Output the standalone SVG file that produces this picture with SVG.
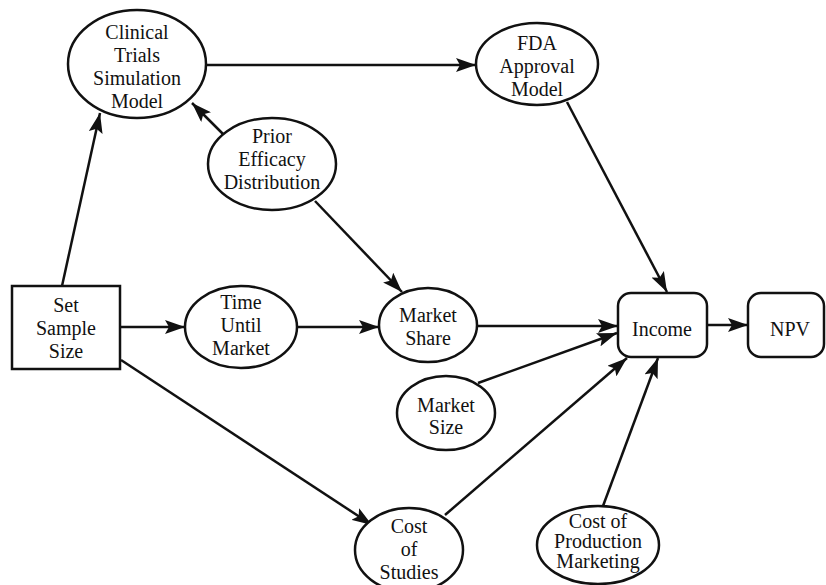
<svg xmlns="http://www.w3.org/2000/svg" width="826" height="585" viewBox="0 0 826 585">
<style>
.n{fill:#fff;stroke:#111;stroke-width:2.5}
.e{stroke:#111;stroke-width:2.5;fill:none;marker-end:url(#ah)}
</style>
<defs>
<marker id="ah" markerUnits="userSpaceOnUse" markerWidth="22" markerHeight="14" refX="20" refY="7" orient="auto">
<path d="M0,0 L20,7 L0,14 L4,7 z" fill="#111"/>
</marker>
</defs>
<rect width="826" height="585" fill="#fff"/>
<g id="edges">
<line class="e" x1="207" y1="65" x2="476" y2="65"/>
<line class="e" x1="223" y1="134" x2="192" y2="103"/>
<line class="e" x1="62" y1="286" x2="100" y2="113"/>
<line class="e" x1="120" y1="327" x2="185" y2="327"/>
<line class="e" x1="297" y1="327" x2="379" y2="327"/>
<line class="e" x1="315" y1="201" x2="402" y2="292"/>
<line class="e" x1="567" y1="102" x2="667" y2="292"/>
<line class="e" x1="477" y1="326" x2="618" y2="326"/>
<line class="e" x1="478" y1="383" x2="617" y2="333"/>
<line class="e" x1="121" y1="360" x2="372" y2="525"/>
<line class="e" x1="445" y1="515" x2="627" y2="358"/>
<line class="e" x1="603" y1="506" x2="658" y2="358"/>
<line class="e" x1="707" y1="325" x2="748" y2="325"/>
</g>
<g id="nodes" font-family="Liberation Serif" font-size="20" fill="#111" text-anchor="middle">
<g id="clinical">
<ellipse class="n" cx="137" cy="64" rx="69" ry="54"/>
<text x="137" y="39">Clinical</text>
<text x="137" y="62">Trials</text>
<text x="137" y="85">Simulation</text>
<text x="137" y="108">Model</text>
</g>
<g id="fda">
<ellipse class="n" cx="537" cy="64" rx="61" ry="41"/>
<text x="537" y="50">FDA</text>
<text x="537" y="73">Approval</text>
<text x="537" y="96">Model</text>
</g>
<g id="prior">
<ellipse class="n" cx="272" cy="164" rx="64" ry="46"/>
<text x="272" y="143">Prior</text>
<text x="272" y="166">Efficacy</text>
<text x="272" y="189">Distribution</text>
</g>
<g id="setsample">
<rect class="n" x="12" y="286" width="108" height="83"/>
<text x="66" y="312">Set</text>
<text x="66" y="335">Sample</text>
<text x="66" y="358">Size</text>
</g>
<g id="time">
<ellipse class="n" cx="241" cy="327" rx="56" ry="41"/>
<text x="241" y="309">Time</text>
<text x="241" y="332">Until</text>
<text x="241" y="355">Market</text>
</g>
<g id="marketshare">
<ellipse class="n" cx="428" cy="325" rx="49" ry="37"/>
<text x="428" y="322">Market</text>
<text x="428" y="345">Share</text>
</g>
<g id="income">
<rect class="n" x="618" y="293" width="89" height="64" rx="13"/>
<text x="662" y="336">Income</text>
</g>
<g id="npv">
<rect class="n" x="748" y="293" width="76" height="64" rx="13"/>
<text x="790" y="336">NPV</text>
</g>
<g id="marketsize">
<ellipse class="n" cx="446" cy="413" rx="49" ry="37"/>
<text x="446" y="412">Market</text>
<text x="446" y="434">Size</text>
</g>
<g id="coststudies">
<ellipse class="n" cx="409" cy="550" rx="54" ry="42"/>
<text x="409" y="533">Cost</text>
<text x="409" y="556">of</text>
<text x="409" y="579">Studies</text>
</g>
<g id="costproduction">
<ellipse class="n" cx="598" cy="545" rx="61" ry="39"/>
<text x="598" y="528">Cost of</text>
<text x="598" y="548">Production</text>
<text x="598" y="568">Marketing</text>
</g>
</g>
</svg>
